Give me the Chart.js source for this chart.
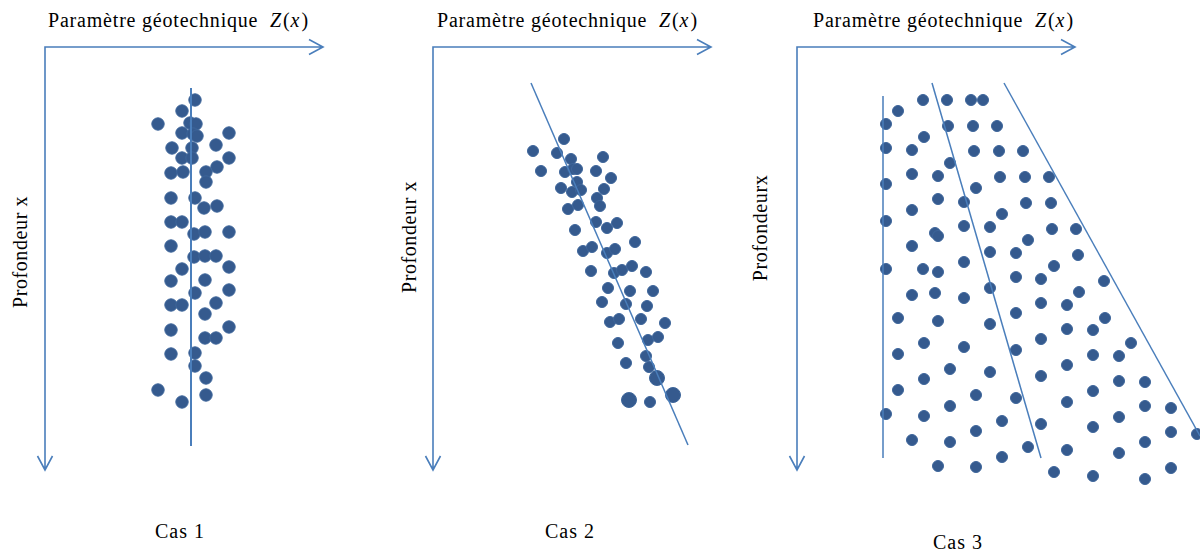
<!DOCTYPE html>
<html>
<head>
<meta charset="utf-8">
<script src="https://cdn.jsdelivr.net/npm/chart.js@4"></script>
<style>
body { margin: 0; background: #fff; width: 1200px; height: 550px; position: relative; overflow: hidden; font-family: "Liberation Serif", serif; color: #000; }
canvas { position: absolute; top: 0; }
.titre { position: absolute; top: 10px; font-size: 20px; line-height: 20px; white-space: nowrap; letter-spacing: 0.8px; }
.titre i { letter-spacing: 2px; }
.prof { position: absolute; font-size: 20px; line-height: 20px; white-space: nowrap; transform: translate(-50%, -50%) rotate(-90deg); letter-spacing: 0.6px; }
.cas { position: absolute; font-size: 20px; line-height: 20px; white-space: nowrap; transform: translateX(-50%); letter-spacing: 1px; }
</style>
</head>
<body>
<div class="titre" style="left:48px">Paramètre géotechnique&nbsp; <i>Z</i>(<i>x</i>)</div>
<div class="titre" style="left:437px">Paramètre géotechnique&nbsp; <i>Z</i>(<i>x</i>)</div>
<div class="titre" style="left:813px">Paramètre géotechnique&nbsp; <i>Z</i>(<i>x</i>)</div>
<div class="prof" style="left:20px;top:252px">Profondeur x</div>
<div class="prof" style="left:409px;top:237px">Profondeur x</div>
<div class="prof" style="left:760px;top:228px">Profondeurx</div>
<div class="cas" style="left:180px;top:521px">Cas 1</div>
<div class="cas" style="left:570px;top:521px">Cas 2</div>
<div class="cas" style="left:958px;top:532px">Cas 3</div>
<canvas id="cas1"></canvas>
<canvas id="cas2"></canvas>
<canvas id="cas3"></canvas>
<script>
const cas1Z = [150,137,113,145,151,137,148,152,184,127,147,171,137,147,184,172,126,138,161,161,126,150,159,172,126,137,149,160,184,126,149,160,171,184,137,126,160,184,150,126,137,171,160,184,126,160,171,126,150,150,161,113,161,137];
const cas1Depth = [53,64,77,76,77,86,87,89,86,101,101,98,111,111,111,120,126,125,125,135,151,151,161,159,175,175,187,185,185,199,210,209,209,220,222,234,233,243,246,258,258,256,267,280,283,291,291,307,306,319,331,343,348,355];
const cas1LineZ = [146, 146];
const cas1LineDepth = [41, 399];

const cas2Z = [131,100,124,138,170,108,132,140,144,163,178,144,128,139,148,171,164,167,135,145,163,174,184,142,202,150,159,174,182,158,181,189,199,213,175,197,220,169,193,214,177,186,208,232,215,225,185,213,193,216,217];
const cas2Depth = [92,104,106,112,110,124,125,122,122,124,131,135,141,145,143,142,151,159,162,158,175,181,176,183,195,204,200,206,202,224,226,223,219,225,241,244,244,255,257,259,275,272,272,276,293,290,296,309,316,320,355];
// the three bigger dots at the bottom
const cas2BigZ = [224, 196, 240];
const cas2BigDepth = [331, 353, 348];
const cas2LineZ = [98, 255];
const cas2LineDepth = [36, 398];

const cas3Z = [101,126,150,174,186, 89,151,176,200,127, 89,115,177,202,226, 153,115,141,203,228,
  252,89,179,141,167, 229,254,115,205,89, 167,193,255,279,138, 141,231,115,193,219,
  281,167,257,89,126, 141,219,244,307,193, 282,115,138,167,244, 270,101,308,219,141,
  193,270,296,244,127, 334,101,167,219,296, 322,270,153,193,244, 127,322,348,101,296,
  179,219,270,153,348, 374,89,127,322,205, 244,296,179,374,400, 115,153,348,231,270,
  322,205,141,179,374, 257,296,348];
const cas3Depth = [64,53,53,53,53, 77,79,79,79,90, 101,103,104,104,104, 116,127,129,130,130,
  130,137,141,152,155, 156,156,163,167,174, 179,180,182,182,186, 189,193,199,205,206,
  208,215,219,222,222, 225,230,232,234,241, 245,248,246,251,256, 258,271,271,266,274,
  277,282,283,292,296, 296,307,300,303,308, 309,318,322,325,329, 332,334,335,343,344,
  348,351,355,359,359, 361,367,369,370,374, 377,380,384,385,387, 393,395,395,400,403,
  406,410,419,420,421, 425,429,432];
const cas3LineAZ = [86, 86];
const cas3LineADepth = [49, 411];
const cas3LineBZ = [135, 244];
const cas3LineBDepth = [36, 411];
const cas3LineCZ = [207, 403];
const cas3LineCDepth = [36, 389];

// axis arrows length (same for the 3 panels)
const axisZ = 278;
const axisDepth = 423;

const blue = '#4a7ebb';
const dotColor = '#355a8e';

function pts(zs, ds) {
    return zs.map((z, i) => ({ x: z, y: ds[i] }));
}

function dots(zs, ds, r) {
    return {
        data: pts(zs, ds),
        pointRadius: r,
        pointBackgroundColor: dotColor,
        pointBorderColor: '#3d659a',
        pointBorderWidth: 1,
        clip: false,
        order: 2
    };
}

function trend(zs, ds, w) {
    return {
        data: pts(zs, ds),
        showLine: true,
        pointRadius: 0,
        borderColor: blue,
        borderWidth: w,
        clip: false,
        order: 0
    };
}

// draws the two axes with open arrow heads
const arrows = {
    id: 'arrows',
    beforeDatasetsDraw(chart) {
        const { ctx, scales: { x, y } } = chart;
        const x0 = x.getPixelForValue(0), y0 = y.getPixelForValue(0);
        const xe = x.getPixelForValue(axisZ), ye = y.getPixelForValue(axisDepth);
        ctx.save();
        ctx.strokeStyle = blue;
        ctx.lineWidth = 1.6;
        ctx.beginPath();
        ctx.moveTo(xe, y0); ctx.lineTo(x0, y0); ctx.lineTo(x0, ye);
        ctx.moveTo(xe - 14, y0 - 7.5); ctx.lineTo(xe, y0); ctx.lineTo(xe - 14, y0 + 7.5);
        ctx.moveTo(x0 - 7.5, ye - 14); ctx.lineTo(x0, ye); ctx.lineTo(x0 + 7.5, ye - 14);
        ctx.stroke();
        ctx.restore();
    }
};

function makePanel(id, originX, width, datasets) {
    const canvas = document.getElementById(id);
    canvas.style.left = (originX - 20) + 'px';
    canvas.width = width;
    canvas.height = 550;
    return new Chart(canvas, {
        type: 'scatter',
        data: { datasets: datasets },
        options: {
            responsive: false,
            animation: false,
            layout: { padding: 0, autoPadding: false },
            plugins: { legend: { display: false }, tooltip: { enabled: false } },
            scales: {
                x: { type: 'linear', display: false, min: -20, max: width - 20 },
                y: { type: 'linear', display: false, min: -47, max: 503, reverse: true }
            }
        },
        plugins: [arrows]
    });
}

makePanel('cas1', 45, 420, [
    trend(cas1LineZ, cas1LineDepth, 2),
    dots(cas1Z, cas1Depth, 6.2)
]);

makePanel('cas2', 433, 420, [
    trend(cas2LineZ, cas2LineDepth, 1.5),
    dots(cas2Z, cas2Depth, 5.5),
    dots(cas2BigZ, cas2BigDepth, 7.5)
]);

makePanel('cas3', 797, 423, [
    trend(cas3LineAZ, cas3LineADepth, 1.5),
    trend(cas3LineBZ, cas3LineBDepth, 1.5),
    trend(cas3LineCZ, cas3LineCDepth, 1.5),
    dots(cas3Z, cas3Depth, 5.5)
]);
</script>
</body>
</html>
